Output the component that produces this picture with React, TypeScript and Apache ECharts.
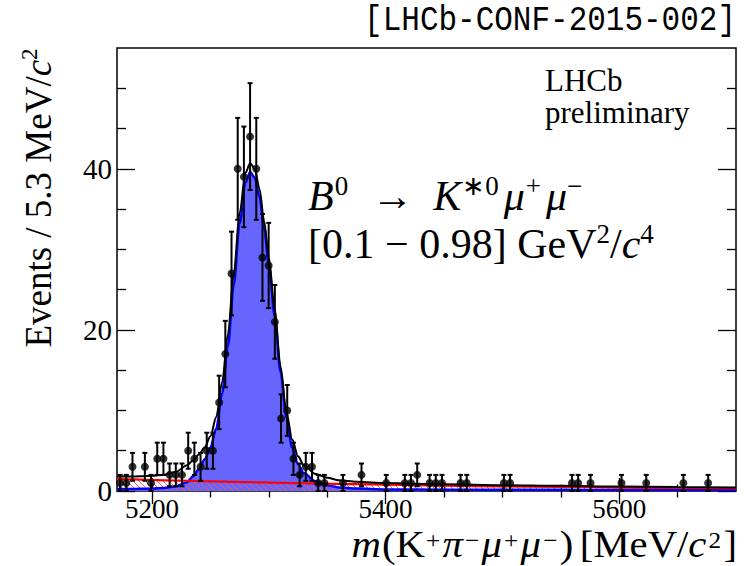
import React, { useEffect, useRef } from "react";
import * as echarts from "echarts";

// ---- data ----
const binLowEdge = 5170;
const binWidth = 5.3;
const binCounts = [
  1, 1, 3, 0, 3, 1, 4, 4, 2, 2,
  2, 5, 4, 3, 5, 5, 11, 17, 27, 40,
  39, 44, 40, 29, 28, 21, 9, 10, 4, 2,
  3, 3, 1, 1, 0, 0, 1, 0, 0, 2,
  0, 0, 0, 1, 0, 0, 1, 1, 2, 0,
  1, 1, 1, 0, 0, 1, 1, 0, 0, 0,
  0, 0, 1, 1, 0, 0, 0, 0, 0, 0,
  0, 0, 0, 1, 1, 0, 1, 0, 0, 0,
  0, 1, 0, 0, 0, 1, 0, 0, 0, 0,
  0, 1, 0, 0, 0, 1, 0, 0, 0, 0,
];

const curveMass = [
  5170, 5180, 5190, 5200, 5210, 5220, 5230, 5235, 5240, 5245,
  5250, 5255, 5260, 5265, 5270, 5275, 5280, 5284, 5288, 5292,
  5296, 5300, 5305, 5310, 5315, 5320, 5325, 5330, 5340, 5350,
  5360, 5375, 5400, 5450, 5500, 5550, 5600, 5650, 5700,
];
const totalFit = [
  1.8, 1.8, 1.83, 1.88, 2.02, 2.35, 3.2, 3.8, 4.5, 5.4,
  6.8, 9.2, 13.5, 19.5, 27.0, 34.5, 39.5, 40.7, 40.0, 37.5,
  33.5, 29.0, 22.5, 15.5, 9.8, 6.4, 4.3, 3.2, 2.1, 1.65,
  1.35, 1.15, 0.98, 0.83, 0.72, 0.64, 0.56, 0.49, 0.44,
];
const signalFit = [
  0.25, 0.25, 0.27, 0.3, 0.36, 0.55, 1.1, 1.8, 2.7, 3.9,
  5.4, 7.8, 12.1, 18.1, 25.6, 33.2, 38.3, 39.6, 38.9, 36.5,
  32.6, 28.1, 21.7, 14.8, 9.2, 5.4, 3.3, 2.2, 1.2, 0.7,
  0.45, 0.3, 0.2, 0.17, 0.15, 0.14, 0.13, 0.12, 0.12,
];
const combFit = [
  1.5, 1.46, 1.42, 1.37, 1.33, 1.3, 1.27, 1.25, 1.23, 1.21,
  1.2, 1.18, 1.16, 1.15, 1.13, 1.12, 1.1, 1.09, 1.08, 1.07,
  1.06, 1.05, 1.03, 1.02, 1.0, 0.99, 0.98, 0.96, 0.94, 0.91,
  0.88, 0.85, 0.78, 0.66, 0.57, 0.5, 0.43, 0.37, 0.32,
];

const xMajorTicks = [5200, 5400, 5600];
const xMinorTicks = [5250, 5300, 5350, 5450, 5500, 5550, 5650];
const yMajorTicks = [0, 20, 40];
const yMinorTicks = [5, 10, 15, 25, 30, 35, 45, 50];

const X_MIN = 5170;
const X_MAX = 5700;
const Y_MIN = 0;
const Y_MAX = 55;

function makeHatch(): HTMLCanvasElement {
  const c = document.createElement("canvas");
  c.width = 6;
  c.height = 6;
  const ctx = c.getContext("2d")!;
  ctx.strokeStyle = "rgba(255,85,85,0.95)";
  ctx.lineWidth = 1;
  ctx.beginPath();
  ctx.moveTo(-1, -1);
  ctx.lineTo(7, 7);
  ctx.moveTo(-1, 5);
  ctx.lineTo(1, 7);
  ctx.moveTo(5, -1);
  ctx.lineTo(7, 1);
  ctx.stroke();
  return c;
}

export default function App() {
  const ref = useRef<HTMLDivElement>(null);
  useEffect(() => {
    document.body.style.margin = "0";
    const chart = echarts.init(ref.current!, null, { renderer: "svg" });
    const serif = "'Liberation Serif', 'Times New Roman', serif";

    const points = binCounts
      .map((n, i) => [binLowEdge + (i + 0.5) * binWidth, n])
      .filter((p) => p[1] > 0);
    const errs = points.map(([x, n]) => [x, n - Math.sqrt(n), n + Math.sqrt(n)]);
    const zip = (ys: number[]) => curveMass.map((x, i) => [x, ys[i]]);

    const tickStyle = { color: "#000", width: 1.3 };
    const mkX = (pos: string, ticks: number[], len: number, labels: boolean) => ({
      type: "value",
      min: X_MIN,
      max: X_MAX,
      position: pos,
      axisLine: { show: false },
      splitLine: { show: false },
      axisTick: { show: true, inside: true, length: len, customValues: ticks, lineStyle: tickStyle },
      axisLabel: labels
        ? {
            show: true,
            customValues: ticks,
            formatter: (v: number) => String(v),
            fontFamily: serif,
            fontSize: 27,
            lineHeight: 27,
            color: "#000",
            margin: 4,
          }
        : { show: false },
    });
    const mkY = (pos: string, ticks: number[], len: number, labels: boolean) => ({
      type: "value",
      min: Y_MIN,
      max: Y_MAX,
      position: pos,
      axisLine: { show: false },
      splitLine: { show: false },
      axisTick: { show: true, inside: true, length: len, customValues: ticks, lineStyle: tickStyle },
      axisLabel: labels
        ? {
            show: true,
            customValues: ticks,
            formatter: (v: number) => String(v),
            fontFamily: serif,
            fontSize: 29,
            color: "#000",
            margin: 5,
          }
        : { show: false },
    });

    const richMain = {
      n: { fontFamily: serif, fontSize: 42, lineHeight: 48, color: "#000" },
      i: { fontFamily: serif, fontStyle: "italic", fontSize: 42, lineHeight: 48, color: "#000" },
      a: { fontFamily: serif, fontSize: 42, lineHeight: 48, color: "#000", padding: [0, 20, 0, 18] },
      s: { fontFamily: serif, fontSize: 27, lineHeight: 31, verticalAlign: "top", color: "#000" },
      sp: {
        fontFamily: serif,
        fontSize: 27,
        lineHeight: 31,
        verticalAlign: "top",
        color: "#000",
        padding: [0, 5, 0, 1],
      },
    };
    const richY = {
      n: { fontFamily: serif, fontSize: 37, lineHeight: 40, color: "#000" },
      i: { fontFamily: serif, fontStyle: "italic", fontSize: 37, lineHeight: 40, color: "#000" },
      s: { fontFamily: serif, fontSize: 23, lineHeight: 26, verticalAlign: "top", color: "#000" },
    };
    const richX = {
      n: { fontFamily: serif, fontSize: 37, lineHeight: 32, color: "#000" },
      i: { fontFamily: serif, fontStyle: "italic", fontSize: 37, lineHeight: 32, color: "#000", padding: [0, 1, 0, 0] },
      g: { fontFamily: serif, fontSize: 37, lineHeight: 32, color: "#000", padding: [0, 0, 0, 6] },
      s: {
        fontFamily: serif,
        fontSize: 23,
        lineHeight: 20,
        verticalAlign: "top",
        color: "#000",
        padding: [0, 2, 0, 1],
      },
    };

    chart.setOption({
      animation: false,
      grid: {
        left: 117,
        right: 19,
        top: 48,
        bottom: 75,
        show: true,
        borderColor: "#000",
        borderWidth: 1.5,
        backgroundColor: "transparent",
      },
      xAxis: [
        mkX("bottom", xMajorTicks, 13, true),
        mkX("bottom", xMinorTicks, 6.5, false),
        mkX("top", xMajorTicks, 13, false),
        mkX("top", xMinorTicks, 6.5, false),
      ],
      yAxis: [
        mkY("left", yMajorTicks, 18, true),
        mkY("left", yMinorTicks, 9, false),
        mkY("right", yMajorTicks, 18, false),
        mkY("right", yMinorTicks, 9, false),
      ],
      series: [
        {
          type: "line",
          data: zip(signalFit),
          showSymbol: false,
          smooth: 0.3,
          smoothMonotone: "x",
          lineStyle: { width: 0 },
          areaStyle: { color: "rgb(102,102,255)", opacity: 1 },
          z: 1,
        },
        {
          type: "line",
          data: zip(combFit),
          showSymbol: false,
          smooth: 0.3,
          lineStyle: { width: 0 },
          areaStyle: { color: { image: makeHatch(), repeat: "repeat" }, opacity: 1 },
          z: 2,
        },
        {
          type: "line",
          data: zip(signalFit),
          showSymbol: false,
          smooth: 0.3,
          smoothMonotone: "x",
          lineStyle: { width: 2.5, color: "#0000ff" },
          z: 3,
        },
        {
          type: "line",
          data: zip(combFit),
          showSymbol: false,
          smooth: 0.3,
          lineStyle: { width: 2.2, color: "#ff0000" },
          z: 4,
        },
        {
          type: "line",
          data: zip(totalFit),
          showSymbol: false,
          smooth: 0.3,
          smoothMonotone: "x",
          lineStyle: { width: 2, color: "#000" },
          z: 5,
        },
        {
          type: "custom",
          data: errs,
          encode: { x: 0, y: [1, 2] },
          z: 6,
          renderItem: (params: any, api: any) => {
            const x = api.value(0);
            const lo = api.coord([x, api.value(1)]);
            const hi = api.coord([x, api.value(2)]);
            const cap = 2.5;
            const st = { stroke: "#000", lineWidth: 2 };
            return {
              type: "group",
              children: [
                { type: "line", shape: { x1: lo[0], y1: lo[1], x2: hi[0], y2: hi[1] }, style: st },
                { type: "line", shape: { x1: hi[0] - cap, y1: hi[1], x2: hi[0] + cap, y2: hi[1] }, style: st },
                { type: "line", shape: { x1: lo[0] - cap, y1: lo[1], x2: lo[0] + cap, y2: lo[1] }, style: st },
              ],
            };
          },
        },
        {
          type: "scatter",
          data: points,
          symbol: "circle",
          symbolSize: 8,
          itemStyle: { color: "#000" },
          z: 7,
        },
      ],
      graphic: [
        {
          type: "text",
          x: 736,
          y: 20,
          scaleY: 1.15,
          style: {
            text: "[LHCb-CONF-2015-002]",
            fontFamily: "'Liberation Mono', monospace",
            fontSize: 31,
            lineHeight: 30,
            align: "right",
            verticalAlign: "middle",
            fill: "#000",
          },
        },
        {
          type: "text",
          left: 545,
          top: 64,
          style: {
            text: "LHCb\npreliminary",
            fontFamily: serif,
            fontSize: 31,
            lineHeight: 32,
            fill: "#000",
          },
        },
        {
          type: "text",
          left: 308,
          top: 172,
          style: {
            text:
              "{i|B}{sp|0}{a|→}{i|K}{sp|∗0}{i|μ}{sp|+}{i|μ}{s|−}\n{n|[0.1 − 0.98] GeV}{s|2}{n|/}{i|c}{s|4}",
            rich: richMain,
          },
        },
        {
          type: "text",
          x: 38,
          y: 198,
          rotation: Math.PI / 2,
          style: {
            text: "{n|Events / 5.3 MeV/}{i|c}{s|2}",
            align: "center",
            verticalAlign: "middle",
            rich: richY,
          },
        },
        {
          type: "text",
          x: 737,
          y: 544,
          scaleX: 1.1,
          style: {
            text: "{i|m}{n|(K}{s|+}{i|π}{s|−}{i|μ}{s|+}{i|μ}{s|−}{n|)}{g|[MeV/}{i|c}{s|2}{n|]}",
            align: "right",
            verticalAlign: "middle",
            rich: richX,
          },
        },
      ],
    });
    return () => chart.dispose();
  }, []);
  return <div ref={ref} style={{ width: 755, height: 566 }} />;
}
